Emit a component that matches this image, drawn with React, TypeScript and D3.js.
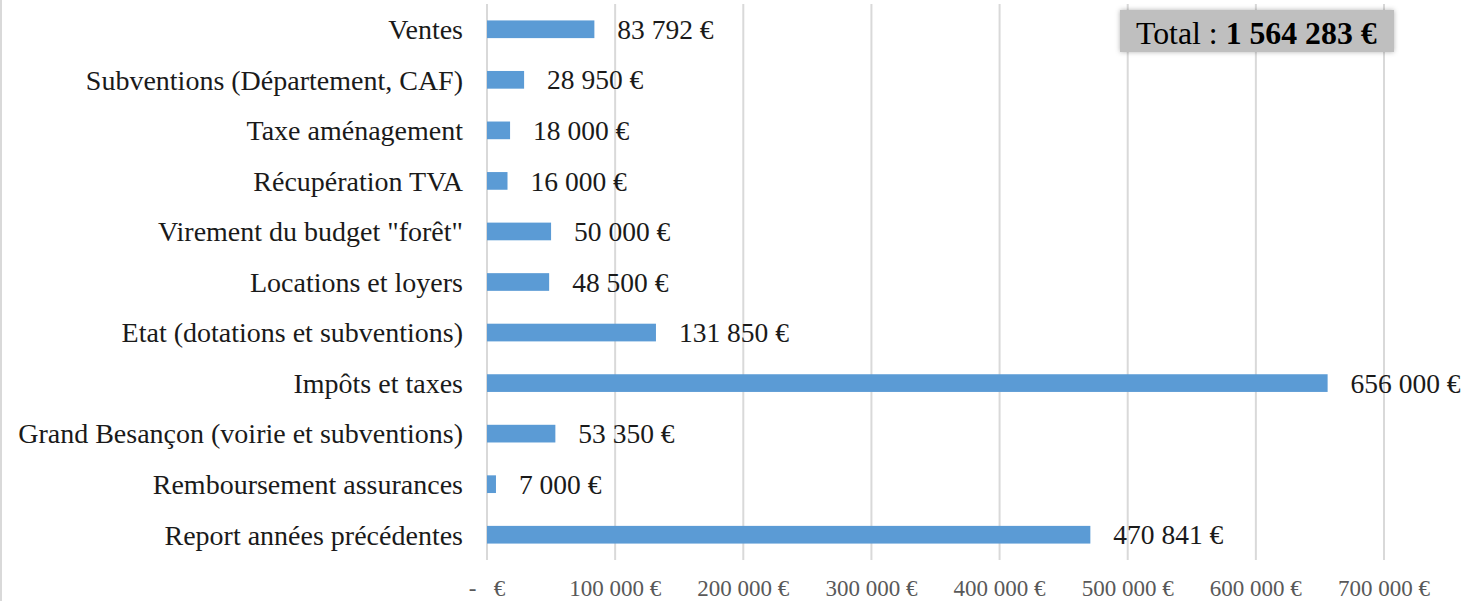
import React from 'react';
import * as d3 from 'd3';

const categories = [
  'Ventes',
  'Subventions (Département, CAF)',
  'Taxe aménagement',
  'Récupération TVA',
  'Virement du budget "forêt"',
  'Locations et loyers',
  'Etat (dotations et subventions)',
  'Impôts et taxes',
  'Grand Besançon (voirie et subventions)',
  'Remboursement assurances',
  'Report années précédentes',
];
const values = [83792, 28950, 18000, 16000, 50000, 48500, 131850, 656000, 53350, 7000, 470841];
const ticks = [0, 100000, 200000, 300000, 400000, 500000, 600000, 700000];
const totalLabel = '1 564 283 €';

const W = 1462;
const H = 601;
const FONT = '"Liberation Serif", "Times New Roman", serif';

// "83 792 €" style, zero shown as accounting dash
const fmt = (v: number) =>
  v === 0 ? '-   €' : d3.format(',')(v).replace(/,/g, ' ') + ' €';

export default function App() {
  const x = d3.scaleLinear().domain([0, 700000]).range([487, 1384]);
  const y = d3.scaleBand<string>().domain(categories).range([4, 560]).paddingInner(0.65).paddingOuter(0.325);
  const bw = y.bandwidth();

  return (
    <svg width={W} height={H} style={{ position: 'absolute', left: 0, top: 0, background: '#fff' }}>
      <defs>
        <filter id="sh" x="-10%" y="-30%" width="120%" height="160%">
          <feGaussianBlur in="SourceAlpha" stdDeviation="2.5" result="b" />
          <feFlood floodColor="#000" floodOpacity="0.3" />
          <feComposite in2="b" operator="in" />
          <feMerge>
            <feMergeNode />
            <feMergeNode in="SourceGraphic" />
          </feMerge>
        </filter>
      </defs>
      <rect x={0} y={0} width={2} height={H} fill="#d9d9d9" />

      {ticks.map(t => (
        <line key={t} x1={x(t)} x2={x(t)} y1={4} y2={560} stroke="#d9d9d9" strokeWidth={2} />
      ))}

      {categories.map((c, i) => {
        const yc = (y(c) ?? 0) + bw / 2;
        return (
          <g key={c}>
            <rect x={x(0)} y={y(c)} width={x(values[i]) - x(0)} height={bw} fill="#5b9bd5" />
            <text x={463} y={yc} dy="0.35em" textAnchor="end" fontFamily={FONT} fontSize={28} fill="#1a1a1a">
              {c}
            </text>
            <text x={x(values[i]) + 23} y={yc} dy="0.35em" fontFamily={FONT} fontSize={27.5} fill="#1a1a1a">
              {fmt(values[i])}
            </text>
          </g>
        );
      })}

      {ticks.map(t => (
        <text key={t} x={x(t)} y={588} dy="0.35em" textAnchor="middle" fontFamily={FONT} fontSize={23}
          fill="#595959" style={{ whiteSpace: 'pre' }}>
          {fmt(t)}
        </text>
      ))}

      <g filter="url(#sh)">
        <rect x={1120} y={10} width={274} height={42} fill="#bfbfbf" />
      </g>
      <text x={1136} y={44} fontFamily={FONT} fontSize={31.8} fill="#000">
        Total : <tspan fontWeight="bold">{totalLabel}</tspan>
      </text>
    </svg>
  );
}
